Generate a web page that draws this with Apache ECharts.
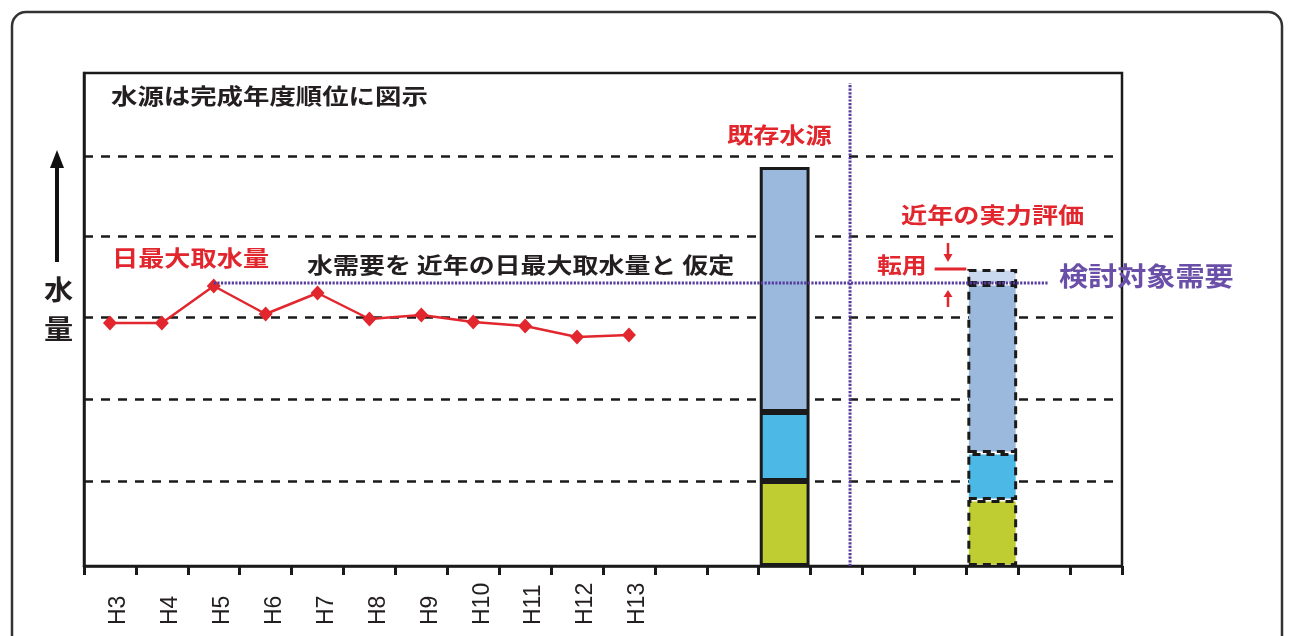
<!DOCTYPE html>
<html>
<head>
<meta charset="utf-8">
<script src="https://cdn.jsdelivr.net/npm/echarts@6/dist/echarts.min.js"></script>
<style>
html,body{margin:0;padding:0;background:#fff;}
#chart{width:1290px;height:636px;}
</style>
</head>
<body>
<div id="chart"></div>
<script>
// ---- data (arbitrary water-volume units, 0 = axis baseline) ----
const yearLabels = ['H3','H4','H5','H6','H7','H8','H9','H10','H11','H12','H13'];
const emptySlots = 9;
const maxIntake = [243, 243, 280, 252, 273, 247, 251, 244, 240, 229, 231];
const gridLevels = [85, 167, 249, 330, 410];
const yMax = 493;
const barSlots = [13, 17];           // existing sources, recent evaluation
const srcGreen = [85, 66];
const srcCyan = [69, 47];
const srcBlue = [245, 169];
const srcTransfer = [0, 15];
const demandLevel = 283;
const demandSpan = [2.5, 18.57];     // in category units
const dividerX = 14.76;              // in category units
const dividerTop = 483;
const transferMark = [16.39, 17.0];  // in category units

const categories = yearLabels.concat(new Array(emptySlots).fill(''));
const nCat = categories.length;

const RED = '#e1262d';
const PURPLE_LINE = '#553c9e';
const PURPLE_TEXT = '#6a4fa8';
const DARK = '#231f20';
const JP = '"Noto Sans CJK JP", "Noto Sans", sans-serif';

const borderStyles = ['solid', [8, 6]];
function barData(vals) {
  const arr = new Array(nCat).fill(null);
  barSlots.forEach((slot, k) => {
    arr[slot] = {
      value: vals[k] || null,
      itemStyle: { borderType: borderStyles[k] }
    };
  });
  return arr;
}
function barSeries(name, vals, color, bw) {
  return {
    name: name, type: 'bar', stack: 'src', xAxisIndex: 0, yAxisIndex: 0,
    barWidth: '96%', z: 3,
    itemStyle: { color: color, borderColor: '#1a1a1a', borderWidth: bw },
    data: barData(vals), silent: true
  };
}

const transferTop = srcGreen[1] + srcCyan[1] + srcBlue[1] + srcTransfer[1];

const chart = echarts.init(document.getElementById('chart'), null, { renderer: 'canvas' });

function jpText(text, x, y, size, sx, color, weight) {
  return {
    type: 'text', x: x, y: y, scaleX: sx, scaleY: 1, z: 50,
    style: { text: text, x: 0, y: 0, font: (weight || 'bold') + ' ' + size + 'px ' + JP, fill: color, verticalAlign: 'top', align: 'left' }
  };
}

const option = {
  backgroundColor: '#fff',
  animation: false,
  grid: { left: 84, top: 73, right: 168, bottom: 70, show: true, borderColor: '#1a1a1a', borderWidth: 2.5, backgroundColor: 'transparent' },
  xAxis: [
    {
      type: 'category', data: categories, boundaryGap: true,
      axisLine: { show: true, lineStyle: { color: '#1a1a1a', width: 2.5 } },
      axisTick: { show: true, interval: 0, length: 9, lineStyle: { color: '#1a1a1a', width: 3 } },
      axisLabel: {
        show: true, interval: 0, rotate: 90, margin: 59, align: 'left', verticalAlign: 'top', lineHeight: 18,
        fontSize: 23, fontFamily: '"Liberation Sans", Arial, sans-serif', color: DARK
      },
      splitLine: { show: false }
    },
    { type: 'value', min: 0, max: nCat, show: false }
  ],
  yAxis: [{
    type: 'value', min: 0, max: yMax,
    axisLine: { show: true, lineStyle: { color: '#1a1a1a', width: 2.5 } },
    axisTick: { show: false }, axisLabel: { show: false }, splitLine: { show: false }
  }],
  series: [
    {
      name: 'grid', type: 'line', data: [], silent: true,
      markLine: {
        z: 1, silent: true, symbol: 'none', label: { show: false },
        lineStyle: { color: '#1a1a1a', width: 2.5, type: [9, 8] },
        data: gridLevels.map(v => ({ yAxis: v }))
      }
    },
    barSeries('green', srcGreen, '#bfcd32', 3),
    barSeries('cyan', srcCyan, '#4bb8e6', 3),
    barSeries('blue', srcBlue, '#9bb8dd', 3),
    barSeries('transfer', srcTransfer, '#c9d8ee', 3),
    {
      name: '日最大取水量', type: 'line', xAxisIndex: 0, yAxisIndex: 0, z: 5,
      data: maxIntake, symbol: 'diamond', symbolSize: [14, 15], showSymbol: true,
      lineStyle: { color: RED, width: 2.5 }, itemStyle: { color: RED }, silent: true
    },
    {
      name: 'demand', type: 'line', xAxisIndex: 1, yAxisIndex: 0, z: 6, symbol: 'none',
      data: [[demandSpan[0], demandLevel], [demandSpan[1], demandLevel]],
      lineStyle: { color: PURPLE_LINE, width: 3, type: [2.2, 1.4] }, silent: true
    },
    {
      name: 'divider', type: 'line', xAxisIndex: 1, yAxisIndex: 0, z: 6, symbol: 'none',
      data: [[dividerX, 0], [dividerX, dividerTop]],
      lineStyle: { color: PURPLE_LINE, width: 3, type: [2.2, 1.4] }, silent: true
    },
    {
      name: 'transferMark', type: 'line', xAxisIndex: 1, yAxisIndex: 0, z: 6, symbol: 'none',
      data: [[transferMark[0], transferTop], [transferMark[1], transferTop]],
      lineStyle: { color: RED, width: 3 }, silent: true
    }
  ],
  graphic: [
    { type: 'rect', z: 40, shape: { x: 12, y: 12, width: 1270, height: 640, r: 14 }, style: { fill: 'none', stroke: '#333', lineWidth: 2.5 } },
    jpText('水源は完成年度順位に図示', 111, 85, 22, 1.2, DARK),
    jpText('日最大取水量', 112, 247, 22, 1.19, RED),
    jpText('水需要を 近年の日最大取水量と 仮定', 307, 254, 22, 1.18, DARK),
    jpText('既存水源', 727, 124, 22, 1.19, RED),
    jpText('近年の実力評価', 901, 204, 22, 1.19, RED),
    jpText('転用', 877, 254, 22, 1.13, RED),
    jpText('検討対象需要', 1059, 263, 26, 1.12, PURPLE_TEXT),
    jpText('水', 44, 276, 27, 1.08, DARK),
    jpText('量', 44, 315, 27, 1.08, DARK),
    // y-axis arrow
    { type: 'line', z: 40, shape: { x1: 57, y1: 262, x2: 57, y2: 165 }, style: { stroke: '#111', lineWidth: 4 } },
    { type: 'polygon', z: 40, shape: { points: [[50, 168], [64, 168], [57, 150]] }, style: { fill: '#111' } },
    // transfer arrows
    { type: 'line', z: 40, shape: { x1: 948, y1: 243, x2: 948, y2: 255 }, style: { stroke: RED, lineWidth: 2.5 } },
    { type: 'polygon', z: 40, shape: { points: [[943.5, 254], [952.5, 254], [948, 262]] }, style: { fill: RED } },
    { type: 'line', z: 40, shape: { x1: 948, y1: 307, x2: 948, y2: 296 }, style: { stroke: RED, lineWidth: 2.5 } },
    { type: 'polygon', z: 40, shape: { points: [[943.5, 297], [952.5, 297], [948, 290]] }, style: { fill: RED } }
  ]
};
chart.setOption(option);
</script>
</body>
</html>
